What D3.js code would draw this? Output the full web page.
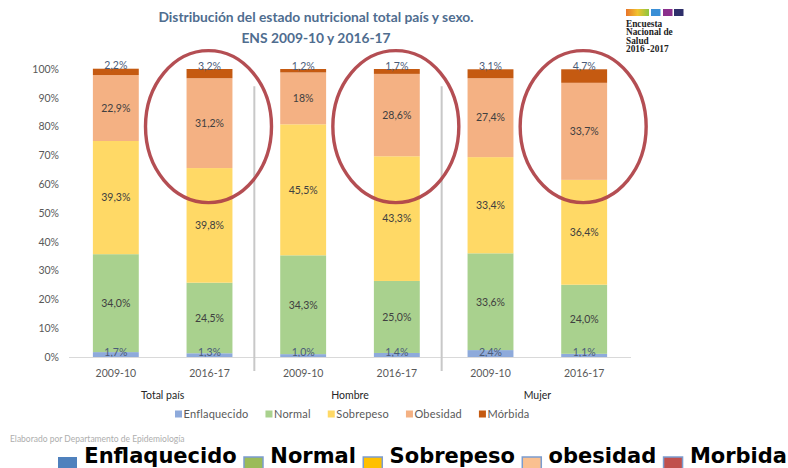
<!DOCTYPE html>
<html>
<head>
<meta charset="utf-8">
<script src="https://cdn.jsdelivr.net/npm/d3@7"></script>
<style>
  body { margin: 0; background: #fff; }
  svg { display: block; }
</style>
</head>
<body>
<div id="chart"></div>
<script>
// values as printed on the bars (% of each bar)
const years = ["2009-10", "2016-17", "2009-10", "2016-17", "2009-10", "2016-17"];
const groups = ["Total país", "Hombre", "Mujer"];
const series = ["Enflaquecido", "Normal", "Sobrepeso", "Obesidad", "Mórbida"];
const enflaquecido = ["1.7", "1.3", "1.0", "1.4", "2.4", "1.1"];
const normal = ["34.0", "24.5", "34.3", "25.0", "33.6", "24.0"];
const sobrepeso = ["39.3", "39.8", "45.5", "43.3", "33.4", "36.4"];
const obesidad = ["22.9", "31.2", "18", "28.6", "27.4", "33.7"];
const morbida = ["2.2", "3.2", "1.2", "1.7", "3.1", "4.7"];
const yTicks = [0, 10, 20, 30, 40, 50, 60, 70, 80, 90, 100];
const circled = [1, 3, 5];
const bottomLegend = ["Enflaquecido", "Normal", "Sobrepeso", "obesidad", "Morbida"];
const logoLines = ["Encuesta", "Nacional de", "Salud", "2016 -2017"];

const colors = ["#8eaadb", "#a9d18e", "#ffd966", "#f4b183", "#c55a11"];
const bottomColors = ["#4f81bd", "#9bbb59", "#ffc000", "#fac090", "#c0504d"];
const font = "Lato, 'Open Sans', sans-serif";

const cols = [enflaquecido, normal, sobrepeso, obesidad, morbida];
const rows = years.map((yr, i) => {
  const r = { i: i };
  series.forEach((s, k) => { r[s] = +cols[k][i]; r[s + "_txt"] = cols[k][i]; });
  return r;
});

const W = 788, H = 468;
const svg = d3.select("#chart").append("svg")
  .attr("width", W).attr("height", H)
  .style("font-family", font);

const x = d3.scaleBand().domain(d3.range(years.length))
  .range([69, 631]).paddingInner(0.51).paddingOuter(0.255);
const y = d3.scaleLinear().domain([0, 100]).range([357, 69]);

// title
const title = svg.append("g").attr("fill", "#4f6d8f").attr("font-weight", 700)
  .attr("font-size", 13.8).attr("text-anchor", "middle");
title.append("text").attr("x", 316).attr("y", 22)
  .text("Distribución del estado nutricional total país y sexo.");
title.append("text").attr("x", 316).attr("y", 43).text("ENS 2009-10 y 2016-17");

// logo
const defs = svg.append("defs");
const grad = defs.append("linearGradient").attr("id", "lg");
grad.append("stop").attr("offset", "0%").attr("stop-color", "#e8742a");
grad.append("stop").attr("offset", "50%").attr("stop-color", "#f2c22e");
grad.append("stop").attr("offset", "100%").attr("stop-color", "#8cc63f");
const logo = svg.append("g").attr("transform", "translate(626,9)");
logo.append("rect").attr("width", 23).attr("height", 7).attr("fill", "url(#lg)");
[["#3a8fd6", 25], ["#8b2f8c", 37], ["#2e2f6a", 48]].forEach(b =>
  logo.append("rect").attr("x", b[1]).attr("width", 9.5).attr("height", 7).attr("fill", b[0]));
logo.selectAll("text.l").data(logoLines).join("text")
  .attr("x", 0).attr("y", (d, i) => 17.5 + i * 8.6)
  .attr("font-family", "'Liberation Serif', 'DejaVu Serif', serif")
  .attr("font-weight", 700).attr("font-size", 9.3).attr("fill", "#222")
  .text(d => d);

// y axis
const yAxis = svg.append("g").attr("transform", "translate(63,0)")
  .call(d3.axisLeft(y).tickValues(yTicks).tickFormat(d => d + "%").tickSize(0).tickPadding(4));
yAxis.select(".domain").remove();
yAxis.selectAll("text").attr("font-family", font).attr("font-size", 10.5).attr("fill", "#595959");

// bars
const stack = d3.stack().keys(series)(rows);
const layers = svg.append("g").selectAll("g").data(stack).join("g")
  .attr("fill", (d, k) => colors[k]);
layers.selectAll("rect").data(d => d).join("rect")
  .attr("x", d => x(d.data.i))
  .attr("y", d => y(d[1]))
  .attr("width", x.bandwidth())
  .attr("height", d => y(d[0]) - y(d[1]));

// bar labels
const lab = svg.append("g").attr("font-size", 10.5).attr("text-anchor", "middle");
stack.forEach((layer, k) => {
  lab.selectAll("text.s" + k).data(layer).join("text")
    .attr("class", "s" + k)
    .attr("x", d => x(d.data.i) + x.bandwidth() / 2)
    .attr("y", d => {
      if (k === 0) return y(d[0]) - 1.5;
      if (k === 4) return y(d[1]) + 0.5;
      return (y(d[0]) + y(d[1])) / 2 + 3.8;
    })
    .attr("fill", (k === 0 || k === 4) ? "#4a5b78" : "#404040")
    .text(d => d.data[series[k] + "_txt"].replace(".", ",") + "%");
});

// x axis line, year labels, group labels, separators
svg.append("line").attr("x1", 69).attr("x2", 631).attr("y1", y(0) + 0.5).attr("y2", y(0) + 0.5)
  .attr("stroke", "#d9d9d9").attr("stroke-width", 1.2);
const xAxis = svg.append("g").attr("transform", `translate(0,${y(0)})`)
  .call(d3.axisBottom(x).tickFormat(i => years[i]).tickSize(0).tickPadding(13));
xAxis.select(".domain").remove();
xAxis.selectAll("text").attr("font-family", font).attr("font-size", 10.5).attr("fill", "#595959");

svg.append("g").selectAll("text").data(groups).join("text")
  .attr("x", (d, g) => (x(2 * g) + x(2 * g + 1) + x.bandwidth()) / 2)
  .attr("y", 398.5).attr("text-anchor", "middle")
  .attr("font-size", 10.5).attr("fill", "#262626")
  .text(d => d);

svg.append("g").selectAll("line").data([2, 4]).join("line")
  .attr("x1", i => (x(i - 1) + x.bandwidth() + x(i)) / 2 - 2)
  .attr("x2", i => (x(i - 1) + x.bandwidth() + x(i)) / 2 - 2)
  .attr("y1", y(94)).attr("y2", y(0) + 14)
  .attr("stroke", "#c8c8c8").attr("stroke-width", 2);

// chart legend
const leg = svg.append("g").attr("font-size", 11).attr("fill", "#595959")
  .attr("letter-spacing", 0.2);
let lx = 175;
series.forEach((s, k) => {
  leg.append("rect").attr("x", lx).attr("y", 410.5).attr("width", 7).attr("height", 7).attr("fill", colors[k]);
  const t = leg.append("text").attr("x", lx + 8.5).attr("y", 418).text(s);
  lx += 8.5 + t.node().getComputedTextLength() + 17;
});

// highlight ellipses
svg.append("g").selectAll("ellipse").data(circled).join("ellipse")
  .attr("cx", i => x(i) + x.bandwidth() / 2 - 1)
  .attr("cy", y(80))
  .attr("rx", 63).attr("ry", 76)
  .attr("fill", "none").attr("stroke", "#b0454a").attr("stroke-width", 3.4)
  .attr("opacity", 0.95);

// source note
svg.append("text").attr("x", 10).attr("y", 442)
  .attr("font-size", 8.5).attr("fill", "#9a9a9a").attr("opacity", 0.8)
  .text("Elaborado por Departamento de Epidemiología");

// big legend at the bottom
const bl = svg.append("g").attr("font-family", "'DejaVu Sans', Verdana, sans-serif")
  .attr("font-weight", 700).attr("font-size", 21).attr("fill", "#000");
const texts = bottomLegend.map(s => bl.append("text").attr("y", 463).text(s));
const widths = texts.map(t => t.node().getComputedTextLength());
const sq = 19;
const gap = (787 - 58 - d3.sum(widths) - sq * bottomLegend.length) / (bottomLegend.length * 2 - 1);
let bx = 58;
bottomLegend.forEach((s, k) => {
  bl.append("rect").attr("x", bx).attr("y", 457).attr("width", sq).attr("height", 14)
    .attr("fill", bottomColors[k])
    .attr("stroke", k ? "#7b9ccf" : "none").attr("stroke-width", 1.5);
  bx += sq + gap;
  texts[k].attr("x", bx);
  bx += widths[k] + gap;
});
</script>
</body>
</html>
